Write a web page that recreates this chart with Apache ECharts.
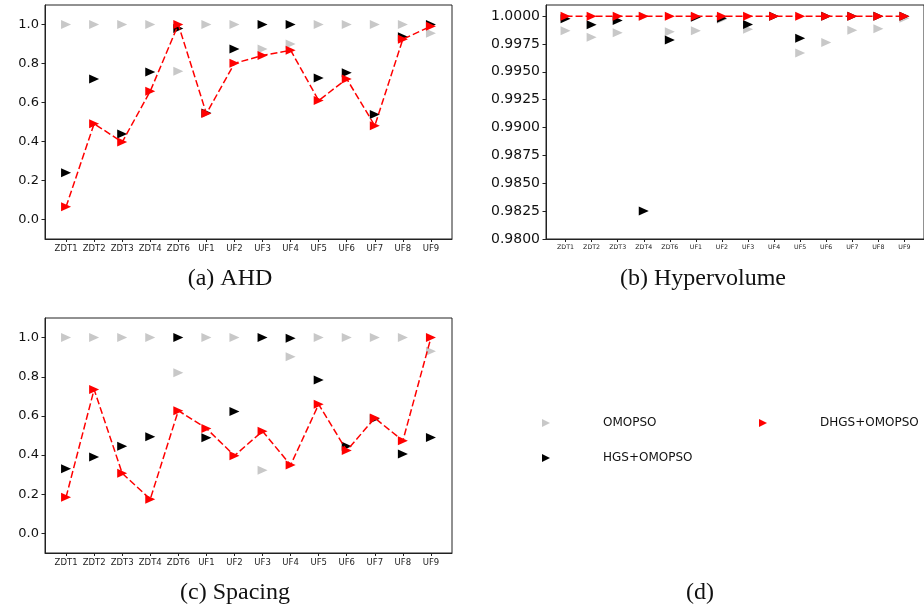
<!DOCTYPE html>
<html><head><meta charset="utf-8">
<script src="https://cdn.jsdelivr.net/npm/echarts@6/dist/echarts.min.js"></script>
<style>html,body{margin:0;padding:0;background:#fff}#c{width:924px;height:610px}</style>
</head><body><div id="c"></div>
<script>
const CATEGORIES = ['ZDT1','ZDT2','ZDT3','ZDT4','ZDT6','UF1','UF2','UF3','UF4','UF5','UF6','UF7','UF8','UF9'];
const CAT_POS = [0,1,2,3,4,5,6,7,8,9,10,11,12,13];
const SERIES_NAMES = ['OMOPSO','HGS+OMOPSO','DHGS+OMOPSO'];

const AHD_OMOPSO = [1.0,1.0,1.0,1.0,0.76,1.0,1.0,0.875,0.90,1.0,1.0,1.0,1.0,0.955];
const AHD_HGS    = [0.24,0.721,0.438,0.757,0.98,0.546,0.875,1.0,1.0,0.726,0.752,0.538,0.937,1.0];
const AHD_DHGS   = [0.065,0.491,0.397,0.658,1.0,0.543,0.801,0.841,0.868,0.610,0.721,0.481,0.925,0.991];

const HV_OMOPSO = [0.99868,0.99811,0.99850,1.0,0.99859,0.99868,0.99973,0.99883,1.0,0.99670,0.99763,0.99874,0.99886,0.99982];
const HV_HGS    = [0.99976,0.99922,0.99961,0.98252,0.99787,0.99991,0.99982,0.99925,1.0,0.99802,1.0,1.0,1.0,1.0];
const HV_DHGS   = [1.0,1.0,1.0,1.0,1.0,1.0,1.0,1.0,1.0,1.0,1.0,1.0,1.0,1.0];

const SP_OMOPSO = [1.0,1.0,1.0,1.0,0.82,1.0,1.0,0.322,0.902,1.0,1.0,1.0,1.0,0.930];
const SP_HGS    = [0.330,0.390,0.445,0.493,1.0,0.488,0.623,1.0,0.997,0.783,0.445,0.586,0.406,0.490];
const SP_DHGS   = [0.185,0.735,0.307,0.175,0.627,0.536,0.397,0.522,0.349,0.659,0.423,0.589,0.473,1.0];

const UNIT_TICKS = [0.0,0.2,0.4,0.6,0.8,1.0];
const HV_TICKS = [0.98,0.9825,0.985,0.9875,0.99,0.9925,0.995,0.9975,1.0];
const CAPTIONS = ['(a) AHD','(b) Hypervolume','(c) Spacing','(d)'];

const TRI = 'path://M0,0L10,5L0,10Z';
const GREY = '#c8c8c8', BLACK = '#000000', RED = '#ff0000';
const pairs = arr => arr.map((v,i) => [CAT_POS[i], v]);

const grids = [
  {left:45, top:5, width:407, height:234},
  {left:546, top:5, width:379, height:234},
  {left:45, top:318, width:407, height:235}
];
const xAxes = grids.map((g,i) => ({
  type:'value', gridIndex:i, min:-0.75, max:13.75,
  splitLine:{show:false},
  axisLine:{show:true, onZero:false, lineStyle:{color:'#222', width:1}},
  axisTick:{show:true, length:3, customValues:CAT_POS, lineStyle:{color:'#222'}},
  axisLabel:{customValues:CAT_POS, formatter:v => CATEGORIES[Math.round(v)], fontSize: i===1?6.3:8.5,
    fontFamily:'DejaVu Sans', color:'#222', margin:5}
}));
const yAxes = [
  {type:'value', gridIndex:0, min:-0.1, max:1.1, splitLine:{show:false},
   axisLine:{show:true, onZero:false, lineStyle:{color:'#222'}},
   axisTick:{show:true, length:3.5, customValues:UNIT_TICKS, lineStyle:{color:'#222'}},
   axisLabel:{customValues:UNIT_TICKS, formatter:v=>v.toFixed(1), fontSize:13, fontFamily:'DejaVu Sans', color:'#111', margin:6}},
  {type:'value', gridIndex:1, min:0.98, max:1.001, splitLine:{show:false},
   axisLine:{show:true, onZero:false, lineStyle:{color:'#222'}},
   axisTick:{show:true, length:3.5, customValues:HV_TICKS, lineStyle:{color:'#222'}},
   axisLabel:{customValues:HV_TICKS, formatter:v=>v.toFixed(4), fontSize:14, fontFamily:'DejaVu Sans', color:'#111', margin:6}},
  {type:'value', gridIndex:2, min:-0.1, max:1.1, splitLine:{show:false},
   axisLine:{show:true, onZero:false, lineStyle:{color:'#222'}},
   axisTick:{show:true, length:3.5, customValues:UNIT_TICKS, lineStyle:{color:'#222'}},
   axisLabel:{customValues:UNIT_TICKS, formatter:v=>v.toFixed(1), fontSize:13, fontFamily:'DejaVu Sans', color:'#111', margin:6}}
];

const panels = [
  [AHD_OMOPSO, AHD_HGS, AHD_DHGS],
  [HV_OMOPSO, HV_HGS, HV_DHGS],
  [SP_OMOPSO, SP_HGS, SP_DHGS]
];
const series = [];
panels.forEach((p, i) => {
  series.push({name:SERIES_NAMES[0], type:'scatter', xAxisIndex:i, yAxisIndex:i, data:pairs(p[0]),
    symbol:TRI, symbolSize:[10,9], itemStyle:{color:GREY, opacity:1}, z:2});
  series.push({name:SERIES_NAMES[1], type:'scatter', xAxisIndex:i, yAxisIndex:i, data:pairs(p[1]),
    symbol:TRI, symbolSize:[10,9], itemStyle:{color:BLACK, opacity:1}, z:3});
  series.push({name:SERIES_NAMES[2], type:'line', xAxisIndex:i, yAxisIndex:i, data:pairs(p[2]),
    symbol:TRI, symbolSize:[10,9], showSymbol:true, itemStyle:{color:RED},
    lineStyle:{color:RED, width:1.5, type:[7,3]}, z:4});
});

const legendBase = {orient:'horizontal', padding:0, itemWidth:8, itemHeight:10,
  textStyle:{fontFamily:'DejaVu Sans', fontSize:12, color:'#111', padding:[0,0,0,48]}};
const legends = [
  Object.assign({}, legendBase, {left:542, top:417, data:[{name:'OMOPSO', icon:TRI}]}),
  Object.assign({}, legendBase, {left:542, top:452, data:[{name:'HGS+OMOPSO', icon:TRI}]}),
  Object.assign({}, legendBase, {left:759, top:417, data:[{name:'DHGS+OMOPSO', icon:TRI}]})
];

const capPos = [[230,279],[703,279],[235,593],[700,593]];
const graphic = CAPTIONS.map((t,i) => ({type:'text', x:capPos[i][0], y:capPos[i][1],
  style:{text:t, font:'24px "Liberation Serif"', fill:'#111', textAlign:'center', textVerticalAlign:'middle'}}));

const chart = echarts.init(document.getElementById('c'), null, {renderer:'canvas'});
chart.setOption({
  animation:false,
  backgroundColor:'#fff',
  grid: grids.map(g => Object.assign({show:true, borderColor:'#222', borderWidth:1, backgroundColor:'transparent'}, g)),
  xAxis:xAxes, yAxis:yAxes, series, legend:legends, graphic
});
</script></body></html>
